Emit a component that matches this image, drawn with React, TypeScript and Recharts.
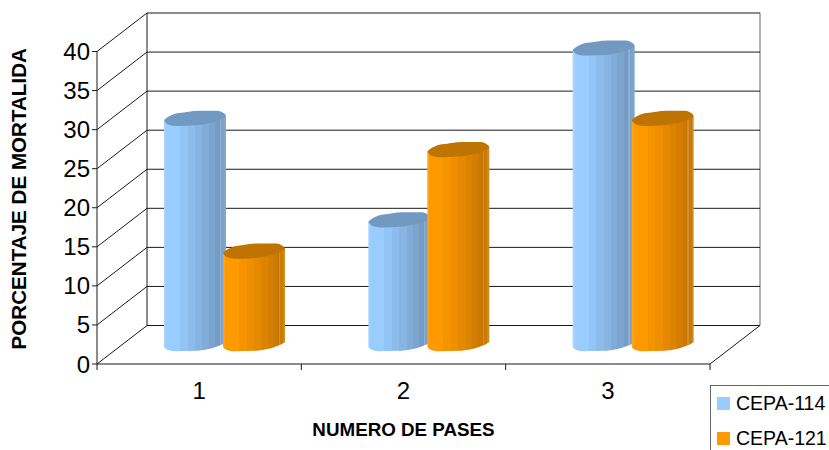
import React from 'react';
import { Bar, BarChart, CartesianGrid, Legend, XAxis, YAxis } from 'recharts';

const passes = ['1', '2', '3'];
const cepa114 = [29, 16, 38];
const cepa121 = [12, 25, 29];
const mortalityTicks = [0, 5, 10, 15, 20, 25, 30, 35, 40];

const chartData = passes.map((pass, i) => ({ pass, cepa114: cepa114[i], cepa121: cepa121[i] }));

const WIDTH = 829;
const HEIGHT = 450;
const PLOT_LEFT = 97;
const PLOT_RIGHT = 710;
const PLOT_TOP = 51.5;
const PLOT_BOTTOM = 364;
const DEPTH_X = 50;
const DEPTH_Y = -38.5;
const FONT = '"Liberation Sans", Arial, sans-serif';
const LINE = '#1a1a1a';

const blue = {
  cap: '#7199c2',
  base: '#99ccff',
  stripes: ['#a6d2fb', '#99ccff', '#99ccff', '#93c4f6', '#8dbcec', '#87b4e2', '#81acd8', '#7ba4ce', '#759cc5', '#7199c2', '#8db0d3', '#7ba2c9', '#82a6cb'],
};
const orange = {
  cap: '#bf7300',
  base: '#ff9900',
  stripes: ['#ffa217', '#ff9900', '#ff9900', '#f69400', '#ee8e00', '#e58900', '#dc8300', '#d47d00', '#cb7900', '#c47500', '#d48f2c', '#c97a08', '#d08a22'],
};

// cylinder stripes get a slightly wider body than the thin highlights near both edges
const stripeEdges = [0, 0.03, 0.12, 0.26, 0.38, 0.5, 0.62, 0.72, 0.82, 0.88, 0.9, 0.92, 0.97, 1];

function Cylinder({ x, y, width, height, palette, id }: any) {
  // bars stand halfway into the floor
  const left = x + DEPTH_X / 2;
  const top = y + DEPTH_Y / 2;
  const bottom = top + height;
  const px = (f: number) => left + f * width;

  const body = [
    `M${px(0)} ${top + 2}`,
    `L${px(1)} ${top - 2}`,
    `L${px(1)} ${bottom - 2.5}`,
    `C${px(0.85)} ${bottom + 3} ${px(0.7)} ${bottom + 5} ${px(0.55)} ${bottom + 6}`,
    `L${px(0.16)} ${bottom + 6.5}`,
    `C${px(0.06)} ${bottom + 6} ${px(0)} ${bottom + 4} ${px(0)} ${bottom + 1.5}`,
    'Z',
  ].join(' ');

  const cap = [
    `M${px(0)} ${top + 2}`,
    `C${px(0.06)} ${top - 2} ${px(0.16)} ${top - 5} ${px(0.28)} ${top - 5.5}`,
    `C${px(0.4)} ${top - 6.5} ${px(0.45)} ${top - 7.5} ${px(0.6)} ${top - 7.5}`,
    `L${px(0.86)} ${top - 7.5}`,
    `C${px(0.94)} ${top - 7} ${px(1)} ${top - 4} ${px(1)} ${top - 2}`,
    `C${px(0.92)} ${top + 2} ${px(0.82)} ${top + 4} ${px(0.6)} ${top + 6.5}`,
    `C${px(0.45)} ${top + 7.5} ${px(0.3)} ${top + 8} ${px(0.15)} ${top + 7.5}`,
    `C${px(0.07)} ${top + 7} ${px(0.02)} ${top + 5} ${px(0)} ${top + 2}`,
    'Z',
  ].join(' ');

  return (
    <g>
      <defs>
        <linearGradient id={id} x1="0" x2="1" y1="0" y2="0">
          {palette.stripes.map((color: string, i: number) => (
            <React.Fragment key={i}>
              <stop offset={stripeEdges[i]} stopColor={color} />
              <stop offset={stripeEdges[i + 1]} stopColor={color} />
            </React.Fragment>
          ))}
        </linearGradient>
      </defs>
      <path d={body} fill={`url(#${id})`} />
      <path d={cap} fill={palette.cap} />
    </g>
  );
}

// Back wall line, left wall diagonal, and once only the edges of the box
function WallLine({ x1, y1, x2, index }: any) {
  return (
    <g stroke={LINE} strokeWidth={1} fill="none">
      <line x1={x1 + DEPTH_X} y1={y1 + DEPTH_Y} x2={x2 + DEPTH_X} y2={y1 + DEPTH_Y} />
      <line x1={x1} y1={y1} x2={x1 + DEPTH_X} y2={y1 + DEPTH_Y} />
      {index === 0 && (
        <>
          <line x1={x1 + DEPTH_X} y1={PLOT_TOP + DEPTH_Y} x2={x1 + DEPTH_X} y2={PLOT_BOTTOM + DEPTH_Y} />
          <line x1={x2 + DEPTH_X} y1={PLOT_TOP + DEPTH_Y} x2={x2 + DEPTH_X} y2={PLOT_BOTTOM + DEPTH_Y} stroke="#666" />
          <line x1={x2} y1={PLOT_BOTTOM} x2={x2 + DEPTH_X} y2={PLOT_BOTTOM + DEPTH_Y} />
        </>
      )}
    </g>
  );
}

// Tick marks sit on the category boundaries, the number in the middle
function PassTick({ x, y, payload, index }: any) {
  const band = (PLOT_RIGHT - PLOT_LEFT) / passes.length;
  return (
    <g>
      <line x1={x - band / 2} y1={PLOT_BOTTOM} x2={x - band / 2} y2={PLOT_BOTTOM + 6} stroke={LINE} />
      {index === passes.length - 1 && (
        <line x1={x + band / 2} y1={PLOT_BOTTOM} x2={x + band / 2} y2={PLOT_BOTTOM + 6} stroke={LINE} />
      )}
      <text x={x} y={y + 27} textAnchor="middle" fontSize={24} fontFamily={FONT} fill="#000">
        {payload.value}
      </text>
    </g>
  );
}

function StrainLegend() {
  const items = [
    { label: 'CEPA-114', color: blue.base },
    { label: 'CEPA-121', color: orange.base },
  ];
  return (
    <div
      style={{
        position: 'absolute',
        left: PLOT_RIGHT,
        top: 385,
        width: 130,
        height: 80,
        borderLeft: '1.5px solid #666',
        borderTop: '1.5px solid #666',
        fontFamily: FONT,
        fontSize: 19.5,
        lineHeight: 1,
        color: '#000',
      }}
    >
      {items.map((item, i) => (
        <div key={item.label} style={{ position: 'absolute', left: 6, top: 8 + i * 35, display: 'flex', alignItems: 'center', whiteSpace: 'nowrap' }}>
          <span style={{ width: 13, height: 13, background: item.color, marginRight: 6, display: 'inline-block' }} />
          {item.label}
        </div>
      ))}
    </div>
  );
}

export default function App() {
  return (
    <div style={{ position: 'absolute', left: 0, top: 0, width: WIDTH, height: HEIGHT, overflow: 'hidden', background: '#fff' }}>
      <BarChart
        width={WIDTH}
        height={HEIGHT}
        data={chartData}
        barSize={62}
        barGap={-3}
        margin={{ top: PLOT_TOP, right: WIDTH - PLOT_RIGHT, bottom: 36, left: 0 }}
      >
        <CartesianGrid vertical={false} horizontal={(props: any) => <WallLine key={props.index} {...props} />} />
        <XAxis
          dataKey="pass"
          height={HEIGHT - PLOT_BOTTOM - 36}
          axisLine={{ stroke: LINE }}
          tickLine={false}
          tick={PassTick}
          label={{
            value: 'NUMERO DE PASES',
            position: 'insideBottom',
            offset: -22,
            style: { fontFamily: FONT, fontWeight: 700, fontSize: 18.8, fill: '#000' },
          }}
        />
        <YAxis
          width={PLOT_LEFT}
          domain={[0, 40]}
          ticks={mortalityTicks}
          interval={0}
          axisLine={{ stroke: LINE }}
          tickLine={{ stroke: LINE }}
          tickSize={5}
          tickMargin={2}
          tick={{ fontFamily: FONT, fontSize: 24, fill: '#000' }}
          label={{
            value: 'PORCENTAJE DE MORTALIDA',
            angle: -90,
            position: 'insideLeft',
            offset: 19,
            dy: -9,
            style: { fontFamily: FONT, fontWeight: 700, fontSize: 20.6, fill: '#000', textAnchor: 'middle' },
          }}
        />
        <Legend layout="vertical" align="center" verticalAlign="middle" content={() => null} />
        <Bar dataKey="cepa114" isAnimationActive={false} shape={(p: any) => <Cylinder {...p} palette={blue} id={`stripes-114-${p.index}`} />} />
        <Bar dataKey="cepa121" isAnimationActive={false} shape={(p: any) => <Cylinder {...p} palette={orange} id={`stripes-121-${p.index}`} />} />
      </BarChart>
      <StrainLegend />
    </div>
  );
}
